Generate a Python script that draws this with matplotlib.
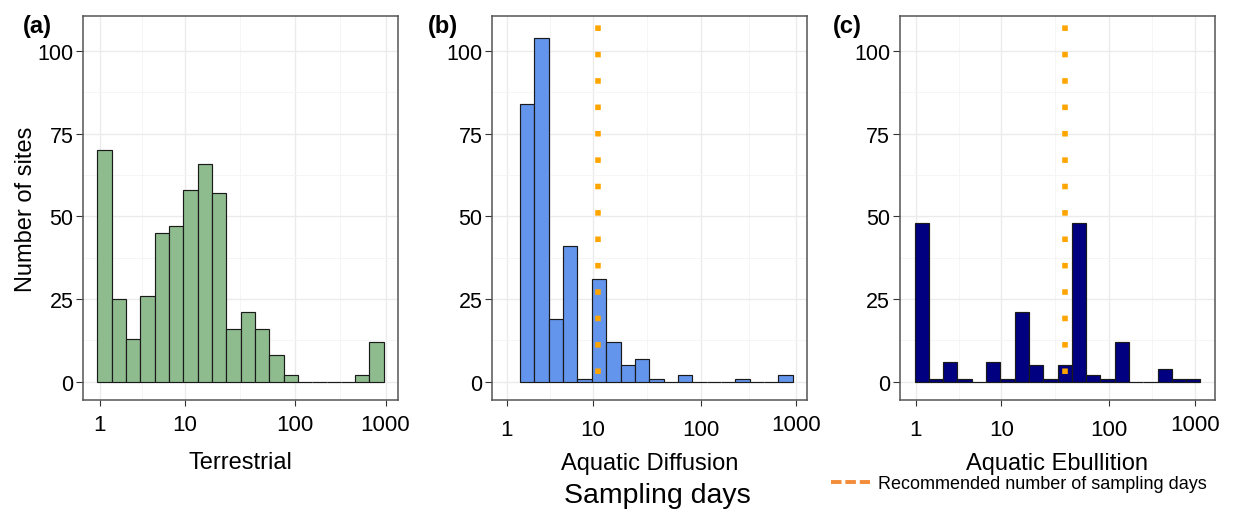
import numpy as np
import matplotlib
matplotlib.use('Agg')
import matplotlib.pyplot as plt
from matplotlib.lines import Line2D

plt.rcParams['font.family'] = ['Liberation Sans', 'DejaVu Sans']

# number of sites per histogram bin, left to right
terrestrial = [70, 25, 13, 26, 45, 47, 58, 66, 57, 16, 21, 16, 8, 2, 0, 0, 0, 0, 2, 12]
diffusion = [84, 104, 19, 41, 1, 31, 12, 5, 7, 1, 0, 2, 0, 0, 0, 1, 0, 0, 2]
ebullition = [48, 1, 6, 1, 0, 6, 1, 21, 5, 1, 5, 48, 2, 1, 12, 0, 0, 4, 1, 1]

panel_tags = ['(a)', '(b)', '(c)']
panel_names = ['Terrestrial', 'Aquatic Diffusion', 'Aquatic Ebullition']
recommended_days = [None, 11, 39]

# x axis runs in decades of sampling days; where the 1/10/100/1000 marks sit per panel
tick_days = [1, 10, 100, 1000]
tick_labels = ['1', '10', '100', '1000']
tick_pos = [[0, 0.897, 2.05, 3], [0, 0.896, 2.014, 3], [0, 0.918, 2.071, 3]]
bin_range = [(-0.025, 2.982), (0.138, 2.965), (-0.014, 3.057)]
x_range = [(-0.172, 3.134), (-0.149, 3.115), (-0.171, 3.214)]

fills = ['#8FBC8F', '#6495ED', '#000080']
W, H = 1241, 510


def draw_panel(ax, i, counts):
    edges = np.linspace(bin_range[i][0], bin_range[i][1], len(counts) + 1)
    ax.bar(edges[:-1], counts, width=np.diff(edges), align='edge',
           color=fills[i], edgecolor='#1a1a1a', linewidth=0.85)

    if recommended_days[i] is not None:
        x = np.interp(np.log10(recommended_days[i]), np.log10(tick_days), tick_pos[i])
        ax.axvline(x, ymin=0.068, ymax=0.979, color='#FFA500', lw=4.0,
                   linestyle=(0, (1, 3.75)))

    ax.set_xlim(*x_range[i])
    ax.set_ylim(-5.5, 110.6)
    ax.set_xticks(tick_pos[i], tick_labels)
    mids = (np.array(tick_pos[i][:-1]) + np.array(tick_pos[i][1:])) / 2
    ax.set_xticks(mids, minor=True)
    ax.set_yticks([0, 25, 50, 75, 100])
    ax.set_yticks([12.5, 37.5, 62.5, 87.5], minor=True)

    ax.set_axisbelow(True)
    ax.grid(which='major', color='#EBEBEB', lw=1.0)
    ax.grid(which='minor', color='#F4F4F4', lw=0.6)
    ax.tick_params(which='minor', length=0)
    ax.tick_params(axis='x', which='major', length=4.3, width=0.8, color='#333333',
                   pad=5.5, labelsize=16)
    ax.tick_params(axis='y', which='major', length=4.7, width=0.8, color='#333333',
                   pad=2.4, labelsize=15.5)
    for s in ax.spines.values():
        s.set_color('#555555')
        s.set_linewidth(1.1)

    # in (b) and (c) the 1/10/100 labels sit a little lower than 1000
    pad = 11.9
    if i > 0:
        for t in ax.xaxis.get_major_ticks()[:3]:
            t.set_pad(9.5)
        pad = 8.4
    ax.set_xlabel(panel_names[i], fontsize=17, labelpad=pad)


def main():
    fig = plt.figure(figsize=(W / 100, H / 100), dpi=100)
    lefts = [83.3, 492.3, 900.0]
    tag_x = [23, 428, 833]

    for i, counts in enumerate([terrestrial, diffusion, ebullition]):
        ax = fig.add_axes([lefts[i] / W, 109 / H, 315 / W, 384 / H])
        draw_panel(ax, i, counts)
        if i == 0:
            ax.set_ylabel('Number of sites', fontsize=17, labelpad=0.5)
        fig.text(tag_x[i] / W, 1 - 15 / H, panel_tags[i], fontsize=17,
                 fontweight='bold', ha='left', va='top')

    fig.text(657 / W, 7 / H, 'Sampling days', fontsize=20.5, ha='center', va='baseline')

    handle = Line2D([], [], color='#F28C38', lw=2.8, linestyle=(0, (2.7, 1.0)))
    fig.legend(handles=[handle], labels=['Recommended number of sampling days'],
               loc='center left', bbox_to_anchor=(830.7 / W, 25 / H), frameon=False,
               fontsize=13, handlelength=2.2, handletextpad=0.4, borderpad=0,
               borderaxespad=0)

    fig.savefig('out.png', dpi=100)


if __name__ == '__main__':
    main()
